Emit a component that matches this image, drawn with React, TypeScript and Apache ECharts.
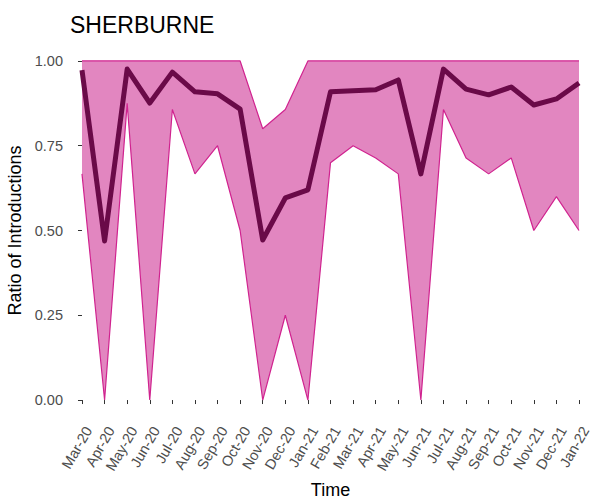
import React, { useEffect, useRef } from "react";
import * as echarts from "echarts";

const months = [
  "Mar-20", "Apr-20", "May-20", "Jun-20", "Jul-20", "Aug-20", "Sep-20", "Oct-20",
  "Nov-20", "Dec-20", "Jan-21", "Feb-21", "Mar-21", "Apr-21", "May-21", "Jun-21",
  "Jul-21", "Aug-21", "Sep-21", "Oct-21", "Nov-21", "Dec-21", "Jan-22",
];
const meanRatio = [
  0.973, 0.469, 0.976, 0.876, 0.967, 0.909, 0.903, 0.858,
  0.472, 0.596, 0.62, 0.909, 0.912, 0.915, 0.944, 0.667,
  0.976, 0.917, 0.9, 0.923, 0.87, 0.888, 0.935,
];
const lowerRatio = [
  0.667, 0, 0.875, 0, 0.857, 0.667, 0.75, 0.5,
  0, 0.25, 0, 0.7, 0.75, 0.714, 0.667, 0,
  0.857, 0.714, 0.667, 0.714, 0.5, 0.6, 0.5,
];
const upperRatio = [
  1, 1, 1, 1, 1, 1, 1, 1,
  0.8, 0.857, 1, 1, 1, 1, 1, 1,
  1, 1, 1, 1, 1, 1, 1,
];
const yTicks = [0, 0.25, 0.5, 0.75, 1];

const FILL = "#E286C0";
const EDGE = "#D0238F";
const MEAN = "#6A0A48";
const FONT = "Liberation Sans, Arial, sans-serif";

export default function App() {
  const ref = useRef<HTMLDivElement>(null);
  useEffect(() => {
    if (!ref.current) return;
    const chart = echarts.init(ref.current, null, { renderer: "svg" });
    const pts = (arr: number[]) => arr.map((v, i) => [i, v]);
    chart.setOption({
      animation: false,
      title: {
        text: "SHERBURNE",
        left: 65,
        top: 8,
        textStyle: { fontFamily: FONT, fontSize: 23, fontWeight: "normal", color: "#000" },
      },
      grid: { left: 69, right: 0, top: 44, bottom: 82, outerBoundsMode: "none", containLabel: false },
      xAxis: {
        type: "value",
        min: -0.575,
        max: 22.575,
        name: "Time",
        nameLocation: "middle",
        nameGap: 58,
        nameTextStyle: { fontFamily: FONT, fontSize: 18, color: "#000" },
        splitLine: { show: false },
        axisLine: { show: false },
        axisTick: { show: true, length: 4, lineStyle: { color: "#333" }, customValues: months.map((_, i) => i) },
        axisLabel: {
          rotate: 60,
          margin: 7,
          align: "right",
          verticalAlign: "top",
          fontFamily: FONT,
          fontSize: 14.5,
          color: "#4d4d4d",
          customValues: months.map((_, i) => i),
          formatter: (v: number) => months[Math.round(v)] ?? "",
        },
      },
      yAxis: {
        type: "value",
        min: -0.05,
        max: 1.05,
        name: "Ratio of Introductions",
        nameLocation: "middle",
        nameGap: 43,
        nameTextStyle: { fontFamily: FONT, fontSize: 18, color: "#000" },
        splitLine: { show: false },
        axisLine: { show: false },
        axisTick: { show: true, length: 4, lineStyle: { color: "#333" }, customValues: yTicks },
        axisLabel: {
          margin: 6,
          fontFamily: FONT,
          fontSize: 14.5,
          color: "#4d4d4d",
          customValues: yTicks,
          formatter: (v: number) => v.toFixed(2),
        },
      },
      series: [
        {
          type: "custom",
          data: [[0]],
          silent: true,
          renderItem: (_params: any, api: any) => {
            const top = upperRatio.map((v, i) => api.coord([i, v]));
            const bottom = lowerRatio.map((v, i) => api.coord([i, v])).reverse();
            return {
              type: "polygon",
              shape: { points: top.concat(bottom) },
              style: { fill: FILL, stroke: "none" },
            };
          },
        },
        {
          type: "line",
          data: pts(lowerRatio),
          symbol: "none",
          lineStyle: { color: EDGE, width: 1.2 },
        },
        {
          type: "line",
          data: pts(upperRatio),
          symbol: "none",
          lineStyle: { color: EDGE, width: 1.2 },
        },
        {
          type: "line",
          data: pts(meanRatio),
          symbol: "none",
          lineStyle: { color: MEAN, width: 5, join: "round", cap: "butt" },
        },
      ],
    });
    return () => chart.dispose();
  }, []);
  return <div ref={ref} style={{ width: 592, height: 499, position: "absolute", left: 0, top: 0, background: "#fff" }} />;
}
